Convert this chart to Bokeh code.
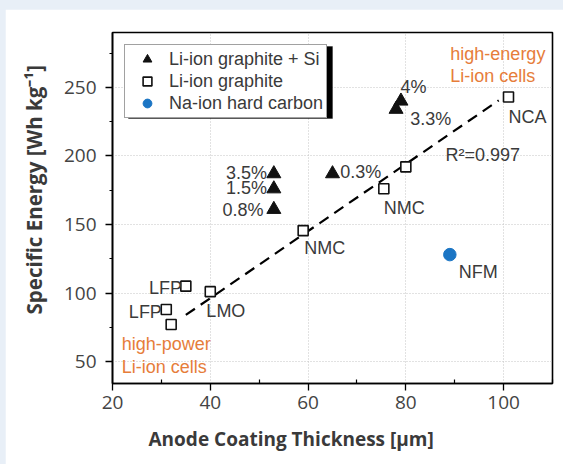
from bokeh.plotting import figure
from bokeh.models import (Legend, LegendItem, BoxAnnotation, FixedTicker, Range1d, Title)
from bokeh.layouts import column
from bokeh.embed import file_html
from bokeh.resources import INLINE
from bokeh.core.properties import value

# ---------------- data ----------------
si_x = [53, 53, 53, 65, 79, 78]
si_y = [187, 176, 161, 187, 240, 234]

gr_x = [101, 80, 75.5, 59, 40, 35, 31, 32]
gr_y = [243, 192, 176, 145.5, 101, 105, 88, 77]

na_x = [89]
na_y = [128]

fit_x = [35, 99]
fit_y = [84, 240.5]

right_lab = ["3.5%", "1.5%", "0.8%", "LFP", "LFP"]
right_lab_x = [51.6, 51.6, 50.9, 34.2, 30.1]
right_lab_y = [187.4, 176.6, 160.9, 103.6, 86.3]

left_lab = ["0.3%", "4%", "3.3%", "NCA", "R\u00b2=0.997", "NMC", "NMC", "NFM", "LMO"]
left_lab_x = [66.6, 78.9, 80.9, 101.0, 88.1, 75.5, 59.2, 90.8, 39.2]
left_lab_y = [188.6, 250, 227.2, 228.3, 200.7, 162.1, 132.5, 115.6, 86.7]

note_lab = ["high-energy", "Li-ion cells", "high-power", "Li-ion cells"]
note_x = [89.1, 89.1, 21.9, 21.9]
note_y = [274.3, 258.4, 62.6, 46.0]

x_ticks = [20, 40, 60, 80, 100]
y_ticks = [50, 100, 150, 200, 250]

series_names = ["Li-ion graphite + Si", "Li-ion graphite", "Na-ion hard carbon"]
x_title = "Anode Coating Thickness [\u00b5m]"
y_title = "Specific Energy [Wh kg\u207b\u00b9]"

# ---------------- figure ----------------
TXT = "#3a3a3a"
ORANGE = "#e67d3a"
BLUE = "#1b75c4"

p = figure(width=558, height=455, output_backend="svg", toolbar_location=None,
           x_range=Range1d(20, 110), y_range=Range1d(34, 290),
           min_border_left=107, min_border_right=11, min_border_top=23, min_border_bottom=79,
           background_fill_color="white", border_fill_color="white")
p.margin = (9, 0, 0, 5)

p.outline_line_color = "black"
p.outline_line_width = 1.6

for ax in (p.xaxis, p.yaxis):
    ax.axis_line_color = "black"
    ax.axis_line_width = 1.6
    ax.major_tick_line_color = "black"
    ax.major_tick_line_width = 1.3
    ax.minor_tick_line_color = "black"
    ax.minor_tick_line_width = 1.2
    ax.major_tick_in = 0
    ax.major_tick_out = 7
    ax.major_label_text_font = "Open Sans"
    ax.major_label_text_font_size = "19px"
    ax.major_label_text_color = "#444444"

p.xaxis.ticker = FixedTicker(ticks=x_ticks, minor_ticks=[30, 50, 70, 90, 110])
p.xaxis.minor_tick_in = 4
p.xaxis.minor_tick_out = 0
p.xaxis.major_label_standoff = 5
p.yaxis.ticker = FixedTicker(ticks=y_ticks, minor_ticks=[75, 125, 175, 225, 275])
p.yaxis.minor_tick_in = 0
p.yaxis.minor_tick_out = 3
p.yaxis.major_label_standoff = 9

p.xgrid.ticker = FixedTicker(ticks=x_ticks)
p.ygrid.ticker = FixedTicker(ticks=y_ticks)
for g in (p.xgrid, p.ygrid):
    g.grid_line_color = "#c4c4c4"
    g.grid_line_dash = "1 2"
    g.grid_line_width = 1

# fit line
p.line(fit_x, fit_y, line_color="black", line_width=2.2, line_dash="11 7")

r_si = p.scatter(si_x, si_y, marker="triangle", size=14, fill_color="#111111",
                 line_color="#111111")
r_gr = p.scatter(gr_x, gr_y, marker="square", size=10, fill_color="white",
                 line_color="#111111", line_width=1.6)
r_na = p.scatter(na_x, na_y, marker="circle", size=12.5, fill_color=BLUE, line_color=BLUE)

FONT = value("Liberation Sans")
p.text(x=right_lab_x, y=right_lab_y, text=right_lab, text_align="right",
       text_baseline="middle", text_font=FONT, text_font_size="18px", text_color=TXT)
p.text(x=left_lab_x, y=left_lab_y, text=left_lab, text_align="left",
       text_baseline="middle", text_font=FONT, text_font_size="18px", text_color=TXT)
p.text(x=note_x, y=note_y, text=note_lab, text_align="left",
       text_baseline="middle", text_font=FONT, text_font_size="18px", text_color=ORANGE)

# axis titles
p.add_layout(Title(text=x_title, align="left", offset=36, standoff=25,
                   text_font="Open Sans", text_font_style="bold", text_font_size="19px",
                   text_color=TXT), "below")
p.add_layout(Title(text=y_title, align="left", offset=69, standoff=25,
                   text_font="Open Sans", text_font_style="bold", text_font_size="20.5px",
                   text_color=TXT), "left")

# legend shadow
p.add_layout(BoxAnnotation(left=16, right=220, top=337, bottom=265,
                           left_units="screen", right_units="screen",
                           top_units="screen", bottom_units="screen",
                           fill_color="black", fill_alpha=1, line_color="black"))

legend = Legend(items=[LegendItem(label=series_names[0], renderers=[r_si]),
                       LegendItem(label=series_names[1], renderers=[r_gr]),
                       LegendItem(label=series_names[2], renderers=[r_na])],
                location="top_left", margin=12, padding=3, spacing=0,
                label_height=22, glyph_height=22, glyph_width=38, label_standoff=3,
                label_text_font="Liberation Sans", label_text_font_size="18px",
                label_text_color=TXT, border_line_color="#444444", border_line_width=1,
                background_fill_color="white", background_fill_alpha=1)
p.add_layout(legend, "center")

layout = column(p, styles={"background-color": "#e8eff7"})
open("out.html", "w").write(file_html(layout, INLINE))
